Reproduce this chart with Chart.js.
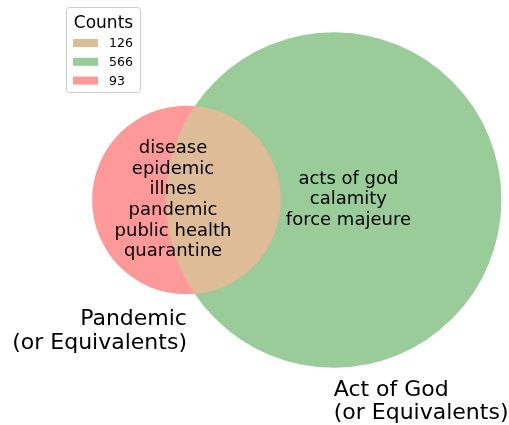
<!DOCTYPE html>
<html>
<head>
<meta charset="utf-8">
<script src="https://cdn.jsdelivr.net/npm/chart.js@4/dist/chart.umd.min.js"></script>
<style>
  body { margin: 0; background: #fff; }
</style>
</head>
<body>
<canvas id="chart" width="509" height="425"></canvas>
<script>
// counts per region
const onlyPandemic = 93;
const onlyActOfGod = 566;
const bothSets = 126;

const setNames = ["Pandemic\n(or Equivalents)", "Act of God\n(or Equivalents)"];
const pandemicTerms = ["disease", "epidemic", "illnes", "pandemic", "public health", "quarantine"];
const actOfGodTerms = ["acts of god", "calamity", "force majeure"];

const legendCounts = [bothSets, onlyActOfGod, onlyPandemic];
const legendColors = ["rgb(222,188,152)", "rgb(153,204,153)", "rgb(255,153,153)"];

const redFill = "rgb(255,153,153)";
const greenFill = "rgb(153,204,153)";
const mixFill = "rgb(222,188,152)";
const font = "'DejaVu Sans', sans-serif";

// circle areas follow the counts (area units)
const rA = Math.sqrt((onlyPandemic + bothSets) / Math.PI);
const rB = Math.sqrt((onlyActOfGod + bothSets) / Math.PI);

function lensArea(d, r1, r2) {
    const a1 = Math.acos((d * d + r1 * r1 - r2 * r2) / (2 * d * r1));
    const a2 = Math.acos((d * d + r2 * r2 - r1 * r1) / (2 * d * r2));
    const k = Math.sqrt((-d + r1 + r2) * (d + r1 - r2) * (d - r1 + r2) * (d + r1 + r2));
    return r1 * r1 * a1 + r2 * r2 * a2 - 0.5 * k;
}

// distance between centres so the lens area equals bothSets
let lo = Math.abs(rB - rA) + 1e-6, hi = rA + rB - 1e-6;
for (let i = 0; i < 80; i++) {
    const mid = (lo + hi) / 2;
    if (lensArea(mid, rA, rB) > bothSets) lo = mid; else hi = mid;
}
const dist = (lo + hi) / 2;

// radius in pixels from the x scale
function pxRadius(chart, r) {
    const x = chart.scales.x;
    return Math.abs(x.getPixelForValue(r) - x.getPixelForValue(0));
}

// overlap region: clip to one circle, fill the other
const overlap = {
    id: "overlap",
    afterDatasetsDraw(chart) {
        const { ctx } = chart;
        const a = chart.getDatasetMeta(0).data[0];
        const b = chart.getDatasetMeta(1).data[0];
        ctx.save();
        ctx.beginPath();
        ctx.arc(a.x, a.y, pxRadius(chart, rA), 0, Math.PI * 2);
        ctx.clip();
        ctx.beginPath();
        ctx.arc(b.x, b.y, pxRadius(chart, rB), 0, Math.PI * 2);
        ctx.fillStyle = mixFill;
        ctx.fill();
        ctx.restore();
    }
};

// texts and legend
const labels = {
    id: "labels",
    afterDraw(chart) {
        const { ctx, scales: { x, y } } = chart;
        ctx.save();
        ctx.fillStyle = "#000";
        ctx.textBaseline = "middle";

        // words in the circles
        ctx.font = "18px " + font;
        ctx.textAlign = "center";
        pandemicTerms.forEach((t, i) => {
            ctx.fillText(t, x.getPixelForValue(-1.19), y.getPixelForValue(0) - 51.5 + i * 20.6);
        });
        actOfGodTerms.forEach((t, i) => {
            ctx.fillText(t, x.getPixelForValue(dist + 1.3), y.getPixelForValue(0) - 21 + i * 20.6);
        });

        // set names under the circles
        ctx.font = "22px " + font;
        ctx.textAlign = "right";
        setNames[0].split("\n").forEach((t, i) => {
            ctx.fillText(t, x.getPixelForValue(0) + 0.5, y.getPixelForValue(-rA) + 25 + i * 24);
        });
        ctx.textAlign = "left";
        setNames[1].split("\n").forEach((t, i) => {
            ctx.fillText(t, x.getPixelForValue(dist), y.getPixelForValue(-rB) + 23 + i * 23);
        });

        // legend box
        ctx.beginPath();
        ctx.roundRect(66.5, 7.5, 74, 85, 3);
        ctx.fillStyle = "rgba(255,255,255,0.8)";
        ctx.fill();
        ctx.strokeStyle = "#cccccc";
        ctx.lineWidth = 1;
        ctx.stroke();

        ctx.fillStyle = "#000";
        ctx.textAlign = "center";
        ctx.font = "17px " + font;
        ctx.fillText("Counts", 103.5, 23.5);

        ctx.font = "12.5px " + font;
        ctx.textAlign = "left";
        legendCounts.forEach((c, i) => {
            const cy = 43 + i * 18.8;
            ctx.fillStyle = legendColors[i];
            ctx.fillRect(73, cy - 4, 25, 8);
            ctx.fillStyle = "#000";
            ctx.fillText(String(c), 109, cy + 1);
        });
        ctx.restore();
    }
};

new Chart(document.getElementById("chart"), {
    type: "scatter",
    data: {
        datasets: [
            {
                label: "Pandemic",
                data: [{ x: 0, y: 0 }],
                backgroundColor: redFill,
                borderWidth: 0,
                pointRadius: ctx => pxRadius(ctx.chart, rA),
                pointHoverRadius: ctx => pxRadius(ctx.chart, rA),
                order: 0
            },
            {
                label: "Act of God",
                data: [{ x: dist, y: 0 }],
                backgroundColor: greenFill,
                borderWidth: 0,
                pointRadius: ctx => pxRadius(ctx.chart, rB),
                pointHoverRadius: ctx => pxRadius(ctx.chart, rB),
                order: 1
            }
        ]
    },
    options: {
        responsive: false,
        animation: false,
        events: [],
        layout: { padding: 0 },
        plugins: {
            legend: { display: false },
            tooltip: { enabled: false }
        },
        scales: {
            x: { display: false, min: -16.5, max: 28.54 },
            y: { display: false, min: -19.91, max: 17.7 }
        }
    },
    plugins: [overlap, labels]
});
</script>
</body>
</html>
